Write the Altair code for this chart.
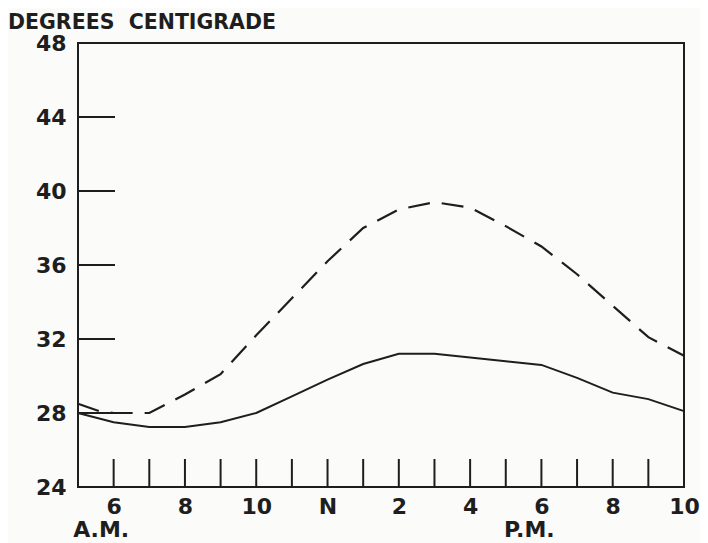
import altair as alt
import pandas as pd

# ---- data ----
hours = [5, 6, 7, 8, 9, 10, 11, 12, 13, 14, 15, 16, 17, 18, 19, 20, 21, 22]
solid_temp = [28.0, 27.5, 27.25, 27.25, 27.5, 28.0, 28.9, 29.8, 30.65, 31.2, 31.2,
              31.0, 30.8, 30.6, 29.9, 29.1, 28.75, 28.1]
dash_hours = [5, 5.6, 6, 7, 8, 9, 10, 11, 12, 13, 14, 15, 16, 17, 18, 19, 20, 21, 22]
dash_temp = [28.5, 28.1, 28.0, 28.0, 29.0, 30.1, 32.2, 34.2, 36.2, 38.0, 39.0, 39.4,
             39.1, 38.1, 37.0, 35.5, 33.8, 32.1, 31.1]
y_ticks = [24, 28, 32, 36, 40, 44, 48]
y_inner_ticks = [28, 32, 36, 40, 44]
x_label_hours = [6, 8, 10, 12, 14, 16, 18, 20, 22]
x_inner_ticks = [6, 7, 8, 9, 10, 11, 12, 13, 14, 15, 16, 17, 18, 19, 20, 21]
period_labels = ["A.M.", "P.M."]
period_hours = [5.65, 17.66]

W, H = 606, 444
LEFT = 70
INK = "#1e1e1e"
FONT = "DejaVu Sans"

solid_df = pd.DataFrame({"hour": hours, "temp": solid_temp})
dash_df = pd.DataFrame({"hour": dash_hours, "temp": dash_temp})
ytick_df = pd.DataFrame({"temp": y_inner_ticks})
xtick_df = pd.DataFrame({"hour": x_inner_ticks})
period_df = pd.DataFrame({"hour": period_hours, "label": period_labels})

xscale = alt.Scale(domain=[5, 22], nice=False, zero=False)
yscale = alt.Scale(domain=[24, 48], nice=False, zero=False)

xaxis = alt.Axis(
    values=x_label_hours,
    labelExpr="datum.value == 12 ? 'N' : (datum.value > 12 ? '' + (datum.value - 12) : '' + datum.value)",
    title=None, domain=False, ticks=False, grid=False,
    labelFontSize=22, labelFont=FONT, labelFontWeight="bold", labelColor=INK, labelPadding=9,
    labelFlush=False, labelOverlap=False,
)
yaxis = alt.Axis(
    values=y_ticks, title=None, domain=False, ticks=False, grid=False,
    labelFontSize=22, labelFont=FONT, labelFontWeight="bold", labelColor=INK, labelPadding=12,
)

x_enc = alt.X("hour:Q", scale=xscale, axis=xaxis)
y_enc = alt.Y("temp:Q", scale=yscale, axis=yaxis)

solid = alt.Chart(solid_df).mark_line(color=INK, strokeWidth=2).encode(x=x_enc, y=y_enc)
dashed = alt.Chart(dash_df).mark_line(color=INK, strokeWidth=2.2, strokeDash=[22, 12]).encode(
    x=alt.X("hour:Q", scale=xscale), y=alt.Y("temp:Q", scale=yscale)
)

ytick = alt.Chart(ytick_df).mark_rule(color=INK, strokeWidth=2).encode(
    y=alt.Y("temp:Q", scale=yscale), x=alt.value(0), x2=alt.value(37)
)
xtick = alt.Chart(xtick_df).mark_rule(color=INK, strokeWidth=2).encode(
    x=alt.X("hour:Q", scale=xscale), y=alt.value(H), y2=alt.value(H - 28)
)
periods = alt.Chart(period_df).mark_text(
    font=FONT, fontSize=22, fontWeight="bold", color=INK, align="center", baseline="alphabetic"
).encode(
    x=alt.X("hour:Q", scale=xscale), y=alt.value(H + 50), text="label:N"
)

chart = alt.layer(solid, dashed, ytick, xtick, periods).properties(
    width=W, height=H,
    title=alt.TitleParams(
        text="DEGREES\u00a0 CENTIGRADE", anchor="start", frame="group", dx=-LEFT,
        fontSize=20.5, font=FONT, fontWeight="bold", color=INK, offset=-1,
    ),
    autosize=alt.AutoSizeParams(type="none"),
    padding={"left": LEFT, "top": 35, "right": 16, "bottom": 56},
    background="#fbfbf9",
).configure_view(stroke=INK, strokeWidth=2)

chart.save("out.html", embed_options={"renderer": "svg", "actions": False})
